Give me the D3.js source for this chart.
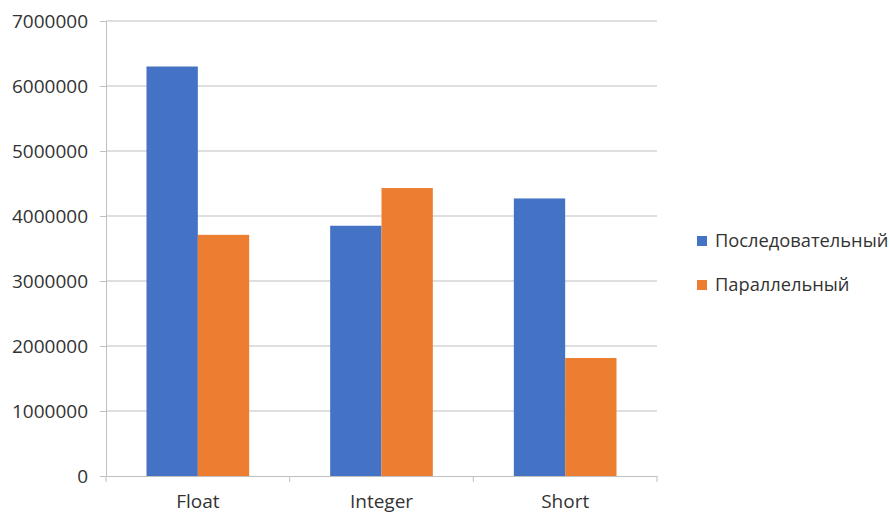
<!DOCTYPE html>
<html><head><meta charset="utf-8">
<script src="https://cdn.jsdelivr.net/npm/d3@7"></script>
<style>body{margin:0;background:#fff}svg{display:block}text{font-family:"Open Sans",sans-serif;fill:#333}</style>
</head><body><svg id="c" width="890" height="513"></svg>
<script>
const categories = ["Float", "Integer", "Short"];
const seriesNames = ["Последовательный", "Параллельный"];
const sequential = [6300000, 3850000, 4270000];
const parallel = [3710000, 4430000, 1815000];
const yTicks = [0, 1000000, 2000000, 3000000, 4000000, 5000000, 6000000, 7000000];
const colors = ["#4472C4", "#ED7D31"];

const svg = d3.select("#c");
const L = 106, R = 657, T = 21, B = 476;
const y = d3.scaleLinear().domain([0, 7000000]).range([B, T]);
const x0 = d3.scaleBand().domain(categories).range([L, R]).padding(0);
const gap = 40.5;
const x1 = d3.scaleBand().domain(seriesNames).range([gap, x0.bandwidth() - gap]).padding(0);

// gridlines
svg.append("g").selectAll("line").data(yTicks.slice(1)).join("line")
  .attr("x1", L).attr("x2", R).attr("y1", d => y(d)).attr("y2", d => y(d))
  .attr("stroke", "#bfbfbf").attr("stroke-width", 1);

// y axis
const ya = svg.append("g").attr("transform", `translate(${L},0)`)
  .call(d3.axisLeft(y).tickValues(yTicks).tickFormat(d3.format("d")).tickSize(6).tickPadding(12));
ya.select(".domain").attr("stroke", "#bfbfbf");
ya.selectAll(".tick line").attr("stroke", "#bfbfbf");
ya.selectAll("text").style("font-size", "19px").attr("fill", "#333").attr("dy", "0.35em");

// bars
const rows = categories.map((c, i) => ({ c, v: [sequential[i], parallel[i]] }));
const g = svg.append("g");
rows.forEach(r => {
  seriesNames.forEach((s, j) => {
    g.append("rect")
      .attr("x", x0(r.c) + x1(s)).attr("width", x1.bandwidth())
      .attr("y", y(r.v[j])).attr("height", B - y(r.v[j]))
      .attr("fill", colors[j]);
  });
});

// x axis
const xa = svg.append("g").attr("transform", `translate(0,${B})`)
  .call(d3.axisBottom(x0).tickSize(0).tickPadding(19));
xa.select(".domain").attr("stroke", "#bfbfbf");
xa.selectAll("text").style("font-size", "19px").attr("fill", "#333");
const bounds = [L, ...categories.map(c => x0(c) + x0.bandwidth())];
svg.append("g").selectAll("line").data(bounds).join("line")
  .attr("x1", d => d).attr("x2", d => d).attr("y1", B).attr("y2", B + 6)
  .attr("stroke", "#bfbfbf");

// legend
const lg = svg.append("g");
seriesNames.forEach((s, j) => {
  const cy = 241 + j * 44;
  lg.append("rect").attr("x", 697).attr("y", cy - 5).attr("width", 10).attr("height", 10).attr("fill", colors[j]);
  lg.append("text").attr("x", 715).attr("y", cy).attr("dy", "0.35em").style("font-size", "18.3px").attr("fill", "#333").text(s);
});
</script></body></html>
